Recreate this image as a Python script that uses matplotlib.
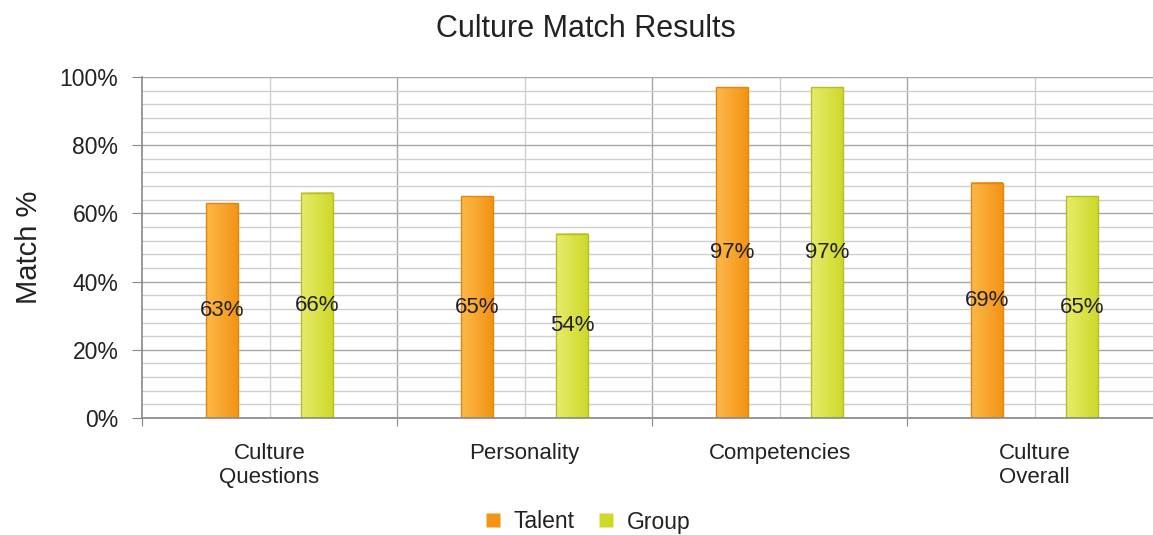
import numpy as np
import matplotlib
matplotlib.use("Agg")
import matplotlib.pyplot as plt
from matplotlib.colors import LinearSegmentedColormap
from matplotlib.lines import Line2D
from matplotlib.ticker import MultipleLocator, FuncFormatter

plt.rcParams["font.family"] = ["Liberation Sans", "DejaVu Sans"]

# ---- data ---------------------------------------------------------------
categories = ["Culture\nQuestions", "Personality", "Competencies", "Culture\nOverall"]
talent = [63, 65, 97, 69]
group = [66, 54, 97, 65]
series_names = ["Talent", "Group"]

# ---- style --------------------------------------------------------------
ORANGE_L, ORANGE_D, ORANGE_E = "#FDB84A", "#F39414", "#E0880E"
GREEN_L, GREEN_D, GREEN_E = "#E6EC6A", "#CFD92A", "#B4BE2A"
TEXT = "#222222"
GRID_MAJ, GRID_MIN = "#A8A8A8", "#CFCFCF"

BAR_W = 0.125
OFFSET = 0.187

fig = plt.figure(figsize=(11.53, 5.35), dpi=100)
ax = fig.add_axes([142 / 1153, 117 / 535, 1020 / 1153, 341 / 535])

x = np.arange(len(categories))


def gradient_bars(xs, vals, c_light, c_dark, c_edge):
    bars = ax.bar(xs, vals, width=BAR_W, color="none", edgecolor=c_edge,
                  linewidth=1.0, zorder=4)
    cmap = LinearSegmentedColormap.from_list("g", [c_light, c_dark])
    grad = np.linspace(0, 1, 64).reshape(1, -1)
    for b in bars:
        x0, w, h = b.get_x(), b.get_width(), b.get_height()
        ax.imshow(grad, extent=[x0, x0 + w, 0, h], aspect="auto", cmap=cmap,
                  zorder=3, interpolation="bicubic")
    return bars


gradient_bars(x - OFFSET, talent, ORANGE_L, ORANGE_D, ORANGE_E)
gradient_bars(x + OFFSET, group, GREEN_L, GREEN_D, GREEN_E)

# value labels sit halfway up each bar
for xs, vals in [(x - OFFSET, talent), (x + OFFSET, group)]:
    for xi, v in zip(xs, vals):
        ax.text(xi, v / 2, f"{v}%", ha="center", va="center", fontsize=16,
                color=TEXT, zorder=6)

ax.set_xlim(-0.5, len(categories) - 0.5)
ax.set_ylim(0, 100)

# grid: dark lines every 20%, light ones every 4%
ax.yaxis.set_major_locator(MultipleLocator(20))
ax.yaxis.set_minor_locator(MultipleLocator(4))
ax.yaxis.set_major_formatter(FuncFormatter(lambda v, _: f"{int(v)}%"))
ax.grid(axis="y", which="major", color=GRID_MAJ, lw=1.0, zorder=1)
ax.grid(axis="y", which="minor", color=GRID_MIN, lw=1.0, zorder=0)
ax.tick_params(axis="y", which="major", length=7, color="#888888",
               labelsize=16.5, labelcolor=TEXT, pad=10)
ax.tick_params(axis="y", which="minor", length=0)

# category boundaries get ticks + dark lines, centres get labels + light lines
ax.set_xticks(np.arange(-0.5, len(categories)), labels=[""] * (len(categories) + 1))
ax.set_xticks(x, labels=categories, minor=True)
ax.tick_params(axis="x", which="major", length=6, color="#888888")
ax.tick_params(axis="x", which="minor", length=0, labelsize=16,
               labelcolor=TEXT, pad=18)
for b in np.arange(0.5, len(categories) - 0.5):
    ax.axvline(b, color=GRID_MAJ, lw=1.0, zorder=1)
for c in x:
    ax.axvline(c, color=GRID_MIN, lw=1.0, zorder=1)

for s in ("top", "right"):
    ax.spines[s].set_visible(False)
for s in ("left", "bottom"):
    ax.spines[s].set_color("#888888")
    ax.spines[s].set_linewidth(1.2)
    ax.spines[s].set_zorder(5)

ax.set_ylabel("Match %", fontsize=21, color=TEXT, labelpad=12)
fig.text(586 / 1153, 1 - 29 / 535, "Culture Match Results", ha="center",
         va="center", fontsize=22, color=TEXT)

handles = [Line2D([], [], marker="s", ls="none", markersize=10,
                  markerfacecolor=ORANGE_D, markeredgecolor="none"),
           Line2D([], [], marker="s", ls="none", markersize=10,
                  markerfacecolor=GREEN_D, markeredgecolor="none")]
fig.legend(handles, series_names, loc="center", bbox_to_anchor=(586 / 1153, 1 - 522 / 535),
           ncol=2, frameon=False, fontsize=16.5, handletextpad=0.4,
           columnspacing=0.9, handlelength=1.0, labelcolor=TEXT)

fig.savefig("out.png", dpi=100, facecolor="white")
